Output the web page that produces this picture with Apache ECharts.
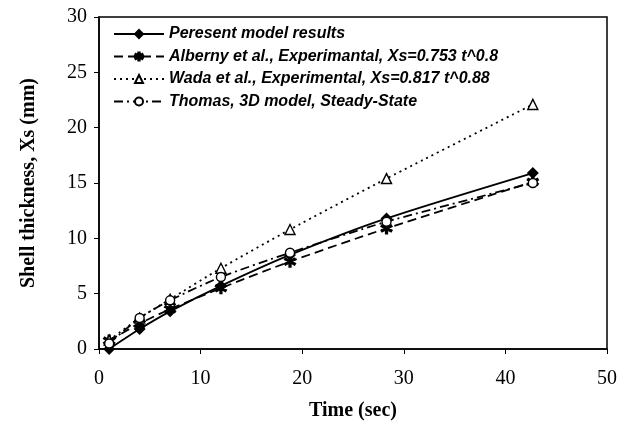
<!DOCTYPE html>
<html><head><meta charset="utf-8">
<script src="https://cdn.jsdelivr.net/npm/echarts@6/dist/echarts.min.js"></script>
<style>html,body{margin:0;padding:0;background:#fff}#c{width:629px;height:437px}</style>
</head><body><div id="c"></div>
<script>
var time = [1, 4, 7, 12, 18.8, 28.3, 42.7];
var present = [0, 1.8, 3.4, 5.7, 8.5, 11.8, 15.9];
var alberny = [0.75, 2.3, 3.6, 5.5, 7.9, 10.9, 15.1];
var wada = [0.8, 2.8, 4.5, 7.3, 10.8, 15.4, 22.1];
var thomas = [0.5, 2.8, 4.4, 6.5, 8.7, 11.5, 15.0];
var names = ['Peresent model results',
  'Alberny et al., Experimantal, Xs=0.753 t^0.8',
  'Wada et al., Experimental, Xs=0.817 t^0.88',
  'Thomas, 3D model, Steady-State'];
var xTicks = [0, 10, 20, 30, 40, 50];
var yTicks = [0, 5, 10, 15, 20, 25, 30];

function pairs(ys){ return time.map(function(t,i){ return [t, ys[i]]; }); }
var asterisk = 'path://M-0.8,-5L0.8,-5L0.8,5L-0.8,5Z M-4.73,-1.81L-3.93,-3.19L4.73,1.81L3.93,3.19Z M-4.73,1.81L3.93,-3.19L4.73,-1.81L-3.93,3.19Z';

var chart = echarts.init(document.getElementById('c'));
var serif = '"Liberation Serif","Times New Roman",serif';
function ser(name, data, symbol, size, dash, fill, smoothV){
  return {
    name: name, type: 'line', data: pairs(data), symbol: symbol, symbolSize: size,
    smooth: smoothV, showSymbol: true,
    lineStyle: {color: '#000', width: 1.8, type: dash},
    itemStyle: {color: fill, borderColor: '#000', borderWidth: 1.4},
    emphasis: {disabled: true}, z: 3
  };
}
chart.setOption({
  animation: false,
  backgroundColor: '#fff',
  grid: {left: 99, right: 22, top: 17, bottom: 88, show: true, borderColor: '#000', borderWidth: 1.5, backgroundColor: 'transparent'},
  legend: {
    orient: 'vertical', left: 108, top: 21, itemWidth: 50, itemHeight: 10, itemGap: 6.5,
    textStyle: {fontFamily: '"Liberation Sans",Arial,sans-serif', fontStyle: 'italic', fontWeight: 'bold', fontSize: 16, color: '#000'},
    data: names
  },
  xAxis: {
    type: 'value', min: 0, max: 50, interval: 10,
    name: 'Time (sec)', nameLocation: 'middle', nameGap: 52,
    nameTextStyle: {fontFamily: serif, fontWeight: 'bold', fontSize: 20, color: '#000'},
    axisLine: {lineStyle: {color: '#000', width: 1.5}},
    axisTick: {show: true, inside: false, length: 5, lineStyle: {color: '#000'}},
    axisLabel: {fontFamily: serif, fontSize: 20, color: '#000', margin: 20,
      formatter: function(v){ return xTicks.indexOf(v) >= 0 ? String(v) : ''; }},
    splitLine: {show: false}
  },
  yAxis: {
    type: 'value', min: 0, max: 30, interval: 5,
    name: 'Shell thickness, Xs (mm)', nameLocation: 'middle', nameGap: 60,
    nameTextStyle: {fontFamily: serif, fontWeight: 'bold', fontSize: 20, color: '#000'},
    axisLine: {show: true, lineStyle: {color: '#000', width: 1.5}},
    axisTick: {show: true, inside: false, length: 5, lineStyle: {color: '#000'}},
    axisLabel: {fontFamily: serif, fontSize: 20, color: '#000', margin: 12,
      formatter: function(v){ return yTicks.indexOf(v) >= 0 ? String(v) : ''; }},
    splitLine: {show: false}
  },
  series: [
    ser(names[0], present, 'diamond', 10, 'solid', '#000', 0.25),
    ser(names[1], alberny, asterisk, 11, [9, 5], '#000', 0.25),
    ser(names[2], wada, 'triangle', 10, [2, 4], '#fff', 0.2),
    ser(names[3], thomas, 'circle', 9, [9, 4, 2, 4], '#fff', 0.25)
  ]
});
</script></body></html>
